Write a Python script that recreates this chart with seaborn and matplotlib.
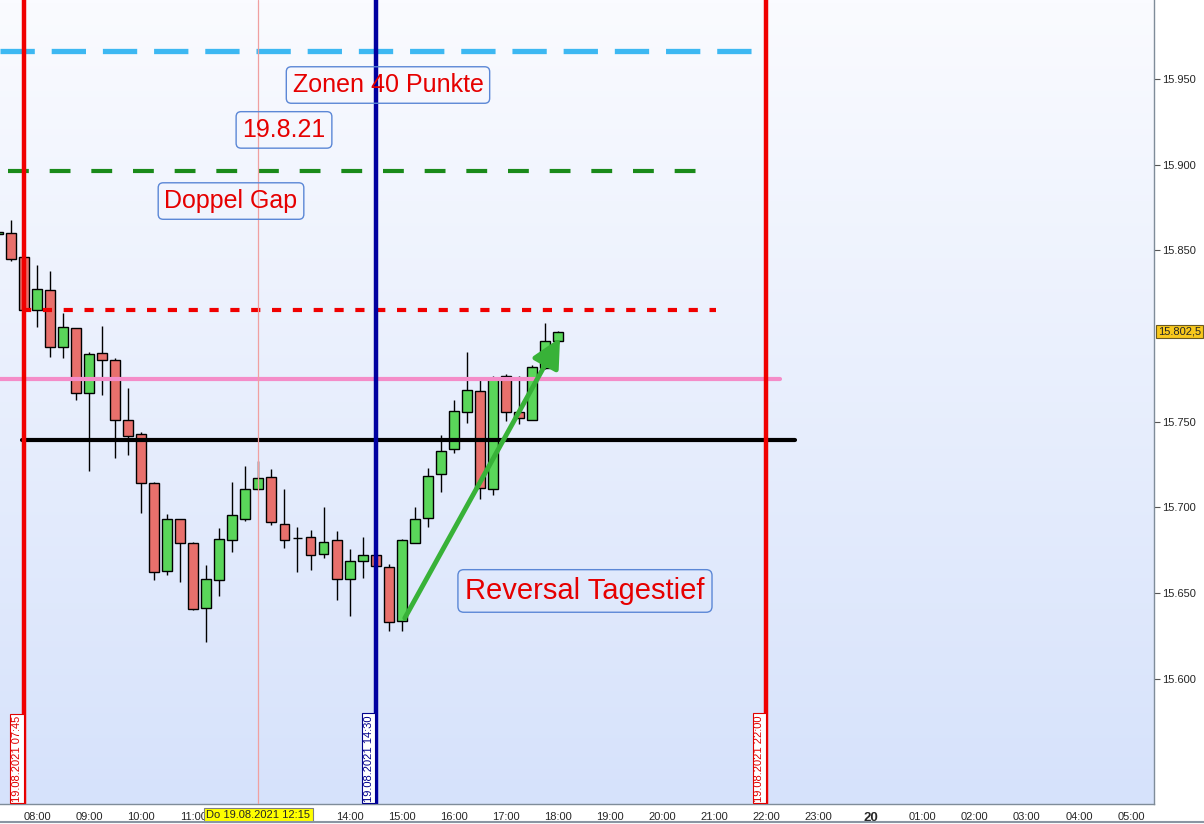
import numpy as np
import pandas as pd
import matplotlib
matplotlib.use('Agg')
import matplotlib.pyplot as plt
from matplotlib.colors import LinearSegmentedColormap
import seaborn as sns

# 15-minute candles, time in hours of 19.08.2021
times = [7.25 + 0.25 * i for i in range(44)]
opens = [15859.5, 15860, 15846, 15815.5, 15827, 15793.5, 15805, 15767, 15790, 15786,
         15751, 15743, 15714, 15663, 15693, 15679.5, 15641.5, 15657.5, 15681, 15693.5,
         15711, 15717.5, 15690.5, 15682, 15682.5, 15673, 15681, 15658.5, 15668.5, 15672.5,
         15665.5, 15633.5, 15679.5, 15694, 15719.5, 15734, 15756, 15768, 15710.5, 15776.5,
         15756, 15751, 15781.5, 15797]
highs = [15862, 15868, 15846, 15841.5, 15838, 15813.5, 15805, 15790.5, 15806, 15787,
         15770, 15744, 15715, 15696, 15693, 15680, 15666.5, 15688, 15715, 15724,
         15727, 15722.5, 15710.5, 15688.5, 15687, 15700, 15686, 15675.5, 15682.5, 15673,
         15667, 15681.5, 15700, 15723, 15742.5, 15763, 15791, 15774.5, 15777, 15778,
         15776.5, 15783, 15807.5, 15803]
lows = [15858, 15844, 15815, 15805.5, 15788, 15787.5, 15762.5, 15721, 15765.5, 15729,
        15730.5, 15696.5, 15657.5, 15660.5, 15656.5, 15640, 15621.5, 15648.5, 15674, 15692,
        15710, 15690, 15676.5, 15662.5, 15663.5, 15670.5, 15646, 15636.5, 15659, 15665.5,
        15628, 15628, 15679, 15688.5, 15709, 15732, 15749.5, 15705, 15707.5, 15750.5,
        15749, 15751, 15781, 15796.5]
closes = [15860.5, 15845, 15815.5, 15827.5, 15793.5, 15805.5, 15767, 15789.5, 15786, 15751,
          15742, 15714.5, 15662.5, 15693, 15679.5, 15641, 15658, 15681.5, 15695.5, 15710.5,
          15717, 15691.5, 15681, 15682, 15672.5, 15680, 15658, 15668.5, 15672, 15666,
          15633, 15681, 15693.5, 15718.5, 15733, 15756.5, 15768.5, 15711.5, 15775.5, 15755.5,
          15752, 15782, 15797, 15802.5]

candles = pd.DataFrame({'t': times, 'o': opens, 'h': highs, 'l': lows, 'c': closes})
candles['up'] = candles['c'] >= candles['o']

# drawn levels: (price, x start, x end)
level_blue = (15966.4, 7.29, 21.78)
level_green = (15896.3, 7.44, 20.78)
level_red = (15815.2, 7.71, 21.03)
level_pink = (15775.0, 7.29, 22.26)
level_black = (15739.4, 7.71, 22.55)

hour_ticks = [8, 9, 10, 11, 14, 15, 16, 17, 18, 19, 20, 21, 22, 23, 24, 25, 26, 27, 28, 29]
hour_labels = ['08:00', '09:00', '10:00', '11:00', '14:00', '15:00', '16:00', '17:00', '18:00',
               '19:00', '20:00', '21:00', '22:00', '23:00', '20', '01:00', '02:00', '03:00',
               '04:00', '05:00']
price_ticks = [15600, 15650, 15700, 15750, 15850, 15900, 15950]
last_price = 15802.5

sns.set_style('white')
plt.rcParams['font.family'] = ['Liberation Sans', 'DejaVu Sans']

fig = plt.figure(figsize=(12.04, 8.24), dpi=100)
ax = fig.add_axes([0, 20 / 824, 1154 / 1204, 804 / 824])

x0, x1 = 7.29, 29.44
y0, y1 = 15527.0, 15996.1

# background gradient, light at top
cmap = LinearSegmentedColormap.from_list('bg', ['#FAFBFF', '#D6E2FB'])
grad = np.linspace(0, 1, 256).reshape(-1, 1)
ax.imshow(grad, extent=[x0, x1, y0, y1], origin='upper', aspect='auto', cmap=cmap, zorder=0)

# candles
w = 0.19
ax.vlines(candles['t'], candles['l'], candles['h'], color='black', lw=1, zorder=2)
body_bottom = np.minimum(candles['o'], candles['c'])
body_h = np.maximum(np.abs(candles['c'] - candles['o']), 0.4)
cols = np.where(candles['up'], '#5AD65A', '#E8706C')
ax.bar(candles['t'], body_h, bottom=body_bottom, width=w, color=cols,
       edgecolor='black', linewidth=1, zorder=3)

# horizontal levels
ax.plot([level_blue[1], level_blue[2]], [level_blue[0]] * 2, color='#3DB8F2', lw=3.8,
        dashes=(6.5, 3.2), zorder=4)
ax.plot([level_green[1], level_green[2]], [level_green[0]] * 2, color='#1A8A1A', lw=3,
        dashes=(5, 5), zorder=4)
ax.plot([level_red[1], level_red[2]], [level_red[0]] * 2, color='#F00000', lw=3,
        dashes=(2.2, 2.8), zorder=4)
ax.plot([level_pink[1], level_pink[2]], [level_pink[0]] * 2, color='#F48CC8', lw=3, zorder=4)
ax.plot([level_black[1], level_black[2]], [level_black[0]] * 2, color='black', lw=3, zorder=4)

# vertical time lines
ax.axvline(7.75, color='#F00000', lw=3.2, zorder=5)
ax.axvline(12.25, color='#F0A0A0', lw=0.9, zorder=5)
ax.axvline(14.5, color='#0000A0', lw=3.2, zorder=5)
ax.axvline(22.0, color='#F00000', lw=3.2, zorder=5)

trans = ax.get_xaxis_transform()
for xv, txt, col in [(7.75, '19.08.2021 07:45', '#E00000'),
                     (14.5, '19.08.2021 14:30', '#00008B'),
                     (22.0, '19.08.2021 22:00', '#E00000')]:
    ax.text(xv - 0.04, 0.003, txt, transform=trans, rotation=90, ha='right', va='bottom',
            color=col, fontsize=8, zorder=6,
            bbox=dict(boxstyle='square,pad=0.15', fc='white', ec=col, lw=0.8))

# text boxes
box = dict(boxstyle='round,pad=0.25,rounding_size=0.2', fc='none', ec='#5B87D6', lw=1)
ax.text(14.737, 15946.5, 'Zonen 40 Punkte', ha='center', va='center', color='#E60000',
        fontsize=18, bbox=box, zorder=7)
ax.text(12.741, 15920.3, '19.8.21', ha='center', va='center', color='#E60000',
        fontsize=18, bbox=box, zorder=7)
ax.text(11.724, 15878.8, 'Doppel Gap', ha='center', va='center', color='#E60000',
        fontsize=18, bbox=box, zorder=7)
ax.text(18.518, 15651.3, 'Reversal Tagestief', ha='center', va='center', color='#E60000',
        fontsize=21, bbox=box, zorder=7)

# reversal arrow
ax.annotate('', xy=(18.04, 15799), xytext=(15.06, 15635.5),
            arrowprops=dict(arrowstyle='-|>,head_length=0.8,head_width=0.4', color='#38B238',
                            lw=3.5, mutation_scale=22, shrinkA=0, shrinkB=0), zorder=8)

ax.set_xlim(x0, x1)
ax.set_ylim(y0, y1)

# axes styling
sns.despine(ax=ax, left=True, top=True, right=False, bottom=False)
for s in ['right', 'bottom']:
    ax.spines[s].set_color('#7F8C99')
    ax.spines[s].set_linewidth(1)
ax.yaxis.tick_right()
ax.set_yticks(price_ticks)
ax.set_yticklabels([f'{v:,}'.replace(',', '.') for v in price_ticks])
ax.set_xticks(hour_ticks)
ax.set_xticklabels(hour_labels)
ax.tick_params(axis='both', labelsize=8, length=4, width=0.8, color='#555555', pad=2)
for lab in ax.get_xticklabels():
    if lab.get_text() == '20':
        lab.set_fontweight('bold')
        lab.set_fontsize(9.5)
ax.set_xlabel('')
ax.set_ylabel('')

# cursor labels
ax.text(12.25, -0.0135, 'Do 19.08.2021 12:15', transform=trans, ha='center', va='center',
        fontsize=8, clip_on=False, zorder=9,
        bbox=dict(boxstyle='square,pad=0.2', fc='#FFFF00', ec='#808080', lw=0.8))
ax.text(1.0035, last_price, '15.802,5',
        transform=ax.get_yaxis_transform(), ha='left', va='center', fontsize=8,
        clip_on=False, zorder=9,
        bbox=dict(boxstyle='square,pad=0.15', fc='#F8C81C', ec='#6B5A20', lw=0.8))

fig.add_artist(plt.Line2D([0, 1], [0.003, 0.003], color='#8A96A3', lw=1.5))

fig.savefig('out.png', dpi=100, facecolor='white')
